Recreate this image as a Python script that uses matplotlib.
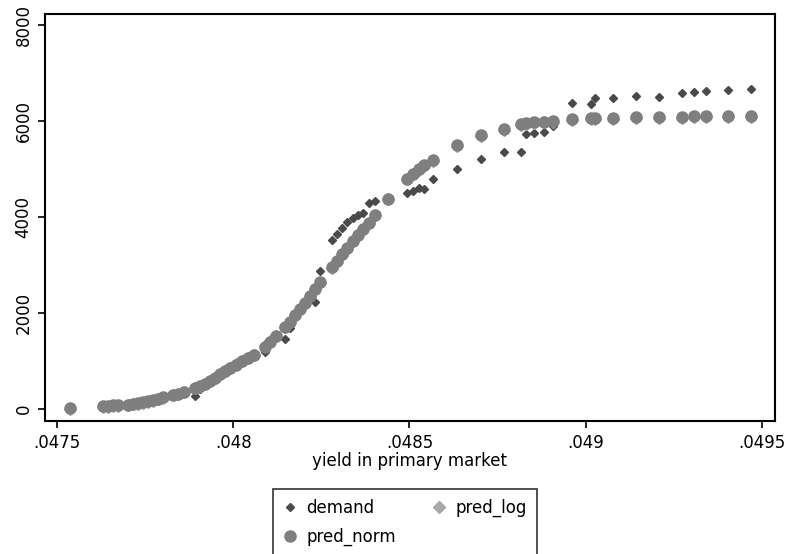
import numpy as np
import matplotlib.pyplot as plt

# yield in primary market (one value per auction)
yld = [0.047537, 0.047631, 0.047645, 0.047659, 0.047673, 0.047702, 0.047716,
       0.047730, 0.047744, 0.047759, 0.047773, 0.047787, 0.047801, 0.047830,
       0.047844, 0.047861, 0.047892, 0.047906, 0.047920, 0.047935, 0.047949,
       0.047963, 0.047977, 0.047991, 0.048009, 0.048026, 0.048043, 0.048060,
       0.048091, 0.048105, 0.048122, 0.048148, 0.048162, 0.048176, 0.048190,
       0.048205, 0.048219, 0.048233, 0.048247, 0.048281, 0.048295, 0.048310,
       0.048324, 0.048341, 0.048355, 0.048369, 0.048384, 0.048403, 0.048440,
       0.048494, 0.048511, 0.048526, 0.048540, 0.048568, 0.048636, 0.048702,
       0.048767, 0.048815, 0.048830, 0.048852, 0.048881, 0.048906, 0.048960,
       0.049014, 0.049026, 0.049077, 0.049142, 0.049207, 0.049272, 0.049307,
       0.049341, 0.049403, 0.049469]

demand = [30, 55, 65, 70, 85, 90, 100, 120, 135, 160, 180, 205, 235, 280,
          310, 340, 280, 420, 500, 560, 610, 680, 760, 830, 900, 970, 1040, 1110,
          1190, 1400, 1500, 1460, 1690, 1950, 2080, 2200, 2300, 2230, 2880, 3530,
          3650, 3780, 3900, 3990, 4050, 4090, 4300, 4340, 4400, 4500, 4550, 4610,
          4580, 4800, 5010, 5200, 5345, 5345, 5720, 5760, 5780, 5900, 6370, 6350,
          6490, 6490, 6530, 6510, 6575, 6600, 6620, 6640, 6660]

pred_norm = [30, 60, 65, 75, 80, 90, 105, 120, 140, 160, 185, 210, 240, 290,
             320, 350, 440, 480, 530, 580, 640, 720, 790, 850, 920, 990, 1060, 1120,
             1300, 1400, 1520, 1700, 1820, 1950, 2080, 2210, 2350, 2490, 2640, 2950,
             3080, 3220, 3350, 3500, 3630, 3760, 3880, 4050, 4380, 4800, 4900, 5000,
             5080, 5180, 5500, 5700, 5830, 5930, 5950, 5970, 5990, 6000, 6040, 6060,
             6060, 6070, 6080, 6090, 6090, 6100, 6100, 6100, 6100]

pred_log = [10, 45, 50, 60, 70, 80, 95, 110, 130, 150, 175, 200, 230, 285,
            315, 345, 440, 480, 530, 585, 645, 725, 795, 860, 930, 1000, 1070, 1130,
            1310, 1410, 1530, 1700, 1820, 1950, 2080, 2210, 2350, 2490, 2630, 2940,
            3070, 3210, 3340, 3490, 3620, 3750, 3870, 4040, 4370, 4790, 4890, 4990,
            5070, 5170, 5490, 5690, 5820, 5910, 5930, 5950, 5970, 5980, 6020, 6040,
            6040, 6050, 6060, 6070, 6070, 6080, 6080, 6080, 6080]

xticks = [0.0475, 0.048, 0.0485, 0.049, 0.0495]
xtick_labels = ['.0475', '.048', '.0485', '.049', '.0495']
yticks = [0, 2000, 4000, 6000, 8000]

fig = plt.figure(figsize=(7.85, 5.54), dpi=100)
ax = fig.add_axes([45/785, 1-421/554, 730/785, 407/554])

ax.plot(yld, demand, 'D', color='#4a4a4a', ms=4.5, mec='#4a4a4a', label='demand')
ax.plot(yld, pred_log, 'D', color='#a8a8a8', ms=6.5, mec='#a8a8a8', label='pred_log')
ax.plot(yld, pred_norm, 'o', color='#7f7f7f', ms=8, mec='#7f7f7f', label='pred_norm')

ax.set_xlim(0.047466, 0.049537)
ax.set_ylim(-250, 8230)
ax.set_xticks(xticks)
ax.set_xticklabels(xtick_labels, fontsize=12)
ax.set_yticks(yticks)
ax.set_yticklabels([str(v) for v in yticks], fontsize=12, rotation=90, va='center')
ax.tick_params(direction='out', length=5, width=1.2, pad=4)
ax.set_xlabel('yield in primary market', fontsize=12, labelpad=0)
for s in ax.spines.values():
    s.set_linewidth(1.5)

h, l = ax.get_legend_handles_labels()
order = [0, 2, 1]
leg = fig.legend([h[i] for i in order], [l[i] for i in order], ncol=2,
                 loc='upper left', bbox_to_anchor=(273/785, 1-489/554),
                 fontsize=12, frameon=True, fancybox=False, edgecolor='black',
                 handlelength=0.8, handletextpad=0.6, columnspacing=2.2,
                 labelspacing=0.65, borderpad=0.6, borderaxespad=0)
leg.get_frame().set_linewidth(1.2)

fig.savefig('out.png', dpi=100)
